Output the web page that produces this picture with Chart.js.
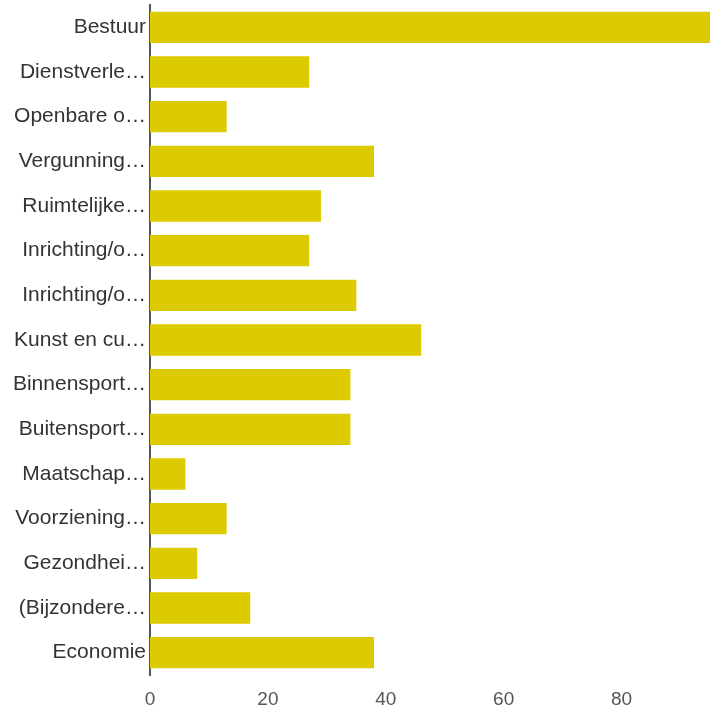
<!DOCTYPE html>
<html>
<head>
<meta charset="utf-8">
<script src="https://cdn.jsdelivr.net/npm/chart.js@4/dist/chart.umd.min.js"></script>
<style>
  html, body { margin: 0; padding: 0; background: #fff; }
  #wrap { width: 710px; height: 711px; position: relative; }
</style>
</head>
<body>
<div id="wrap"><canvas id="c"></canvas></div>
<script>
const categories = [
  "Bestuur", "Dienstverle…", "Openbare o…", "Vergunning…", "Ruimtelijke…",
  "Inrichting/o…", "Inrichting/o…", "Kunst en cu…", "Binnensport…", "Buitensport…",
  "Maatschap…", "Voorziening…", "Gezondhei…", "(Bijzondere…", "Economie"
];
const values = [96, 27, 13, 38, 29, 27, 35, 46, 34, 34, 6, 13, 8, 17, 38];
const xTicks = [0, 20, 40, 60, 80];
const xMax = 95;

new Chart(document.getElementById('c'), {
  type: 'bar',
  data: {
    labels: categories,
    datasets: [{
      data: values,
      backgroundColor: '#dccb00',
      borderWidth: 0,
      barPercentage: 0.7,
      categoryPercentage: 1.0
    }]
  },
  options: {
    indexAxis: 'y',
    responsive: true,
    maintainAspectRatio: false,
    animation: false,
    layout: { padding: { top: 5, right: 0, bottom: 0, left: 0 } },
    plugins: { legend: { display: false }, tooltip: { enabled: false } },
    scales: {
      x: {
        min: 0,
        max: xMax,
        grid: { display: false, drawTicks: false },
        border: { display: false },
        afterBuildTicks: (scale) => { scale.ticks = xTicks.map(v => ({ value: v })); },
        afterFit: (scale) => { scale.height = 36; scale.paddingLeft = 0; scale.paddingRight = 0; },
        ticks: {
          padding: 13,
          color: '#555',
          font: { family: 'Liberation Sans, Arial, sans-serif', size: 19 }
        }
      },
      y: {
        grid: { display: false, drawTicks: false },
        border: { display: true, color: '#555', width: 2 },
        afterFit: (scale) => { scale.width = 150; scale.paddingTop = 0; scale.paddingBottom = 0; },
        ticks: {
          padding: 4,
          color: '#333',
          font: { family: 'Liberation Sans, Arial, sans-serif', size: 21 }
        }
      }
    }
  }
});
</script>
</body>
</html>
